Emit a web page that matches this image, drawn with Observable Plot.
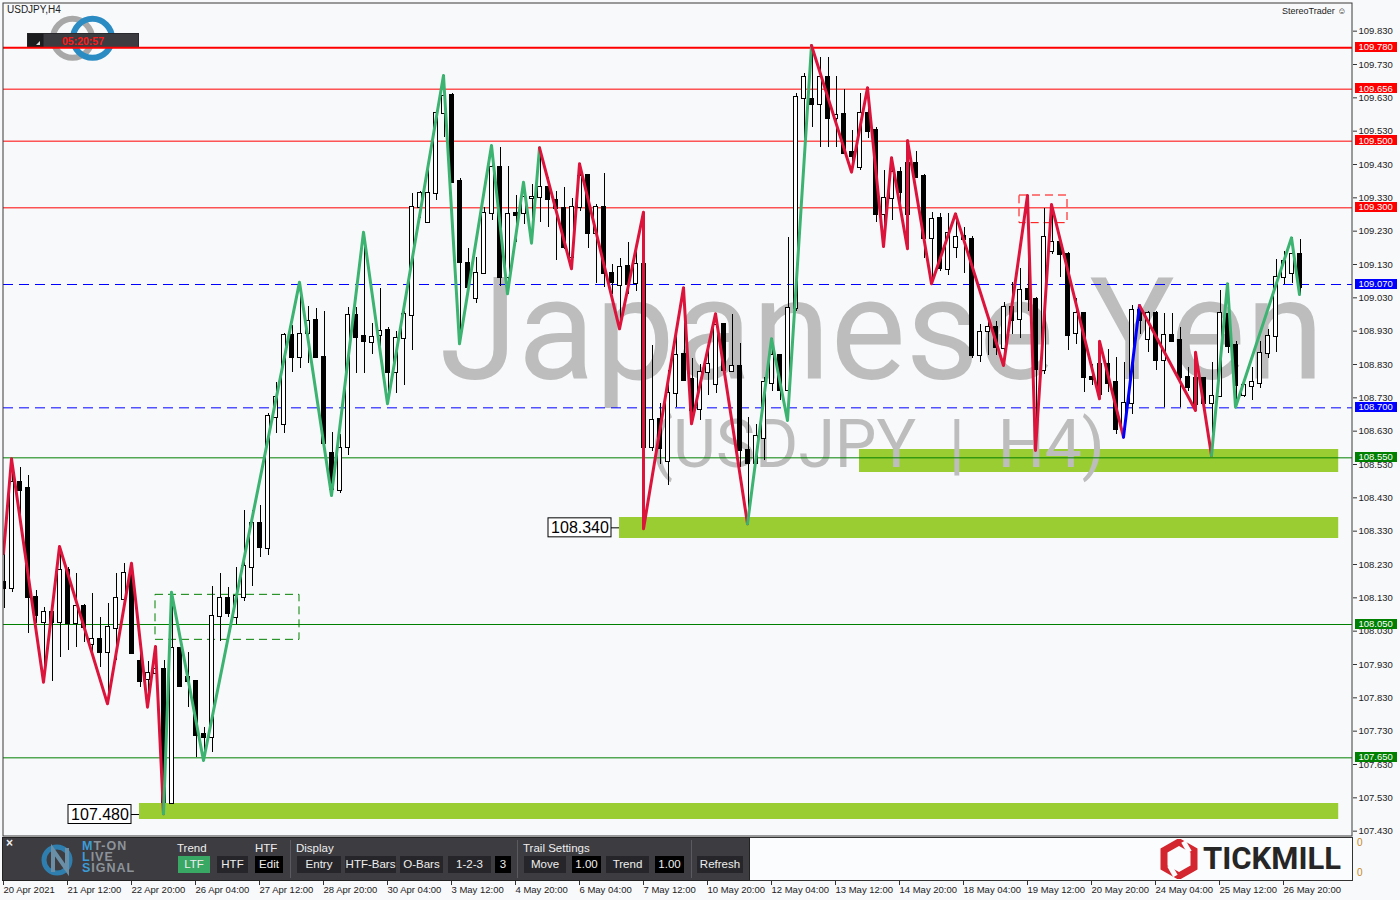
<!DOCTYPE html>
<html><head><meta charset="utf-8">
<script src="https://cdn.jsdelivr.net/npm/d3@7"></script>
<script src="https://cdn.jsdelivr.net/npm/@observablehq/plot@0.6"></script>
<style>
body{margin:0;background:#f8f9fb;width:1400px;height:900px;position:relative;overflow:hidden;font-family:"Liberation Sans",Arial,sans-serif}
.abs{position:absolute}
#main{position:absolute;left:0;top:0;z-index:2}
#logo{position:absolute;left:0;top:0;z-index:1}
#xaxis{position:absolute;left:0;top:880px}
.t{position:absolute;color:#eee;font-size:11.5px;white-space:nowrap}
.btn{position:absolute;top:856px;height:17px;line-height:17px;text-align:center;color:#eee;background:#26262a;font-size:11.5px}
.blk{background:#000}
.sep{position:absolute;top:840px;width:1px;height:38px;background:#5a5a60}
</style></head><body>
<svg id="logo" width="150" height="70">
  <circle cx="72.5" cy="38.3" r="19.5" fill="none" stroke="#a8a8a8" stroke-width="6"/>
  <circle cx="92.5" cy="38.3" r="19.5" fill="none" stroke="#2b8cc4" stroke-width="6"/>
  <rect x="27.5" y="33.5" width="111" height="14" fill="#3b3b40" stroke="#2a2a2e"/>
  <rect x="27.5" y="33.5" width="16" height="14" fill="#1c1c1f"/>
  <path d="M40 45 L36 45 L40 41 Z" fill="#ddd"/>
  <text x="83" y="44.5" fill="#ff1a1a" font-size="10.5" font-weight="bold" text-anchor="middle" font-family="Liberation Sans">05:20:57</text>
</svg>
<div class="abs" style="left:7px;top:4px;font-size:10px;color:#222">USDJPY,H4</div>
<div class="abs" style="left:1282px;top:6px;font-size:9px;color:#222">StereoTrader ☺</div>
<div id="main"></div>

<!-- indicator sub-window -->
<div class="abs" style="left:2px;top:837px;width:1349px;height:42px;border:1px solid #333;background:#fbfcfd"></div>
<div class="abs" style="left:2px;top:837px;width:746px;height:42px;border:1px solid #222;background:#3c3c41"></div>
<div class="t" style="left:6px;top:836px;font-weight:bold;font-size:12px">×</div>
<svg class="abs" style="left:40px;top:842px" width="40" height="36">
  <circle cx="17" cy="18" r="13" fill="none" stroke="#2e7fb0" stroke-width="5"/>
  <path d="M13 30 L13 8 L27 28 L27 6" fill="none" stroke="#6a8ea6" stroke-width="4"/>
</svg>
<div class="t" style="left:82px;top:841px;font-weight:bold;font-size:12.5px;letter-spacing:1px;line-height:11px;color:#8d939a">
<span style="color:#3b9bd6">M</span>T-ON<br><span style="color:#3b9bd6">L</span>IVE<br><span style="color:#3b9bd6">S</span>IGNAL</div>
<div class="t" style="left:177px;top:842px">Trend</div>
<div class="t" style="left:255px;top:842px">HTF</div>
<div class="btn" style="left:178px;width:32px;background:#3aa865">LTF</div>
<div class="btn" style="left:217px;width:31px">HTF</div>
<div class="btn blk" style="left:255px;width:28px">Edit</div>
<div class="sep" style="left:290px"></div>
<div class="t" style="left:296px;top:842px">Display</div>
<div class="btn" style="left:297px;width:44px">Entry</div>
<div class="btn" style="left:345px;width:51px">HTF-Bars</div>
<div class="btn" style="left:400px;width:43px">O-Bars</div>
<div class="btn" style="left:448px;width:43px">1-2-3</div>
<div class="btn blk" style="left:495px;width:16px">3</div>
<div class="sep" style="left:517px"></div>
<div class="t" style="left:523px;top:842px">Trail Settings</div>
<div class="btn" style="left:524px;width:42px">Move</div>
<div class="btn blk" style="left:572px;width:29px">1.00</div>
<div class="btn" style="left:606px;width:43px">Trend</div>
<div class="btn blk" style="left:655px;width:29px">1.00</div>
<div class="sep" style="left:691px"></div>
<div class="btn" style="left:697px;width:46px">Refresh</div>
<svg class="abs" style="left:1160px;top:839px" width="40" height="40">
  <polygon points="19,3 34,11.5 34,28.5 19,37 4,28.5 4,11.5" fill="none" stroke="#d3262e" stroke-width="7" stroke-linejoin="miter"/>
  <rect x="24" y="2" width="5" height="12" fill="#fbfcfd" transform="rotate(-30 26 8)"/>
  <rect x="10" y="26" width="5" height="12" fill="#fbfcfd" transform="rotate(-30 12 32)"/>
</svg>
<div class="abs" style="left:1203px;top:840px;font-family:Roboto,sans-serif;font-weight:700;font-size:31px;color:#262626">TICKMILL</div>
<div class="abs" style="left:1357px;top:837px;font-size:10px;color:#c58a1e">0</div>
<div class="abs" style="left:1357px;top:867px;font-size:10px;color:#c58a1e">0</div>
<div id="xaxis"></div>

<script>
// ---------------- data ----------------
const candleOpen = [108.177,108.157,108.477,108.457,108.132,108.057,108.087,108.057,108.212,108.054,
108.104,107.99,108.005,107.967,108.037,108.124,108.202,107.94,107.884,107.902,
107.914,107.514,107.977,107.89,107.88,107.72,107.71,108.074,108.127,108.07,
108.13,108.222,108.352,108.277,108.67,108.65,108.916,108.85,108.922,108.962,
108.85,108.564,108.452,108.58,108.976,108.914,108.895,108.916,108.932,108.807,
108.907,108.977,109.302,109.257,109.344,109.582,109.637,109.38,109.134,109.027,
109.102,109.284,109.42,109.092,109.282,109.282,109.327,109.33,109.36,109.322,
109.297,109.152,109.302,109.397,109.224,109.302,109.104,109.067,109.124,109.072,
109.13,108.58,108.664,108.54,108.744,108.86,108.784,108.694,108.807,108.77,
108.95,108.81,108.824,108.572,108.534,108.607,108.774,108.857,108.752,108.997,
109.627,109.624,109.61,109.69,109.567,109.58,109.466,109.42,109.584,109.532,
109.28,109.327,109.407,109.28,109.434,109.394,109.207,109.267,109.114,109.18,
109.214,109.204,108.857,108.93,108.94,108.877,109.002,108.964,109.054,109.024,
108.812,109.17,109.197,109.16,108.922,108.982,108.792,108.74,108.83,108.777,
108.634,108.712,108.992,108.904,108.982,108.842,108.917,108.902,108.79,108.71,
108.787,108.714,108.734,108.98,108.887,108.737,108.764,108.774,108.862,108.914,
109.09,109.102,109.16];
const candleHigh = [108.317,108.547,108.522,108.497,108.152,108.102,108.11,108.282,108.222,108.202,
108.11,108.142,108.072,108.112,108.202,108.232,108.234,107.98,107.94,107.984,
107.942,108.147,107.977,107.967,107.88,107.74,108.165,108.202,108.16,108.222,
108.392,108.392,108.407,108.682,108.777,108.924,108.947,109.077,109.004,108.997,
108.99,108.627,108.62,109.002,109.002,109.227,108.954,109.057,108.942,108.93,
108.99,109.342,109.35,109.417,109.592,109.697,109.642,109.387,109.177,109.15,
109.30,109.487,109.48,109.424,109.337,109.377,109.37,109.48,109.39,109.35,
109.36,109.327,109.432,109.40,109.31,109.404,109.13,109.147,109.197,109.19,
109.287,108.887,108.712,108.812,108.917,109.06,108.847,108.83,108.872,108.982,
108.95,108.98,108.892,108.672,108.65,108.792,108.907,108.857,109.212,109.642,
109.704,109.787,109.75,109.75,109.694,109.654,109.532,109.642,109.66,109.54,
109.412,109.452,109.422,109.502,109.47,109.40,109.287,109.284,109.282,109.284,
109.24,109.214,108.95,108.97,108.96,109.017,109.077,109.117,109.337,109.03,
109.297,109.31,109.197,109.167,109.027,108.982,108.83,108.90,108.874,108.85,
108.837,109.007,109.007,108.99,108.99,108.982,108.982,108.942,108.82,108.867,
108.787,108.837,109.052,109.072,108.90,108.78,108.822,108.90,108.934,109.144,
109.17,109.21,109.204];
const candleLow = [108.098,108.147,108.362,108.022,108.052,107.877,107.88,107.952,107.972,107.982,
107.997,107.952,107.922,107.812,107.942,108.12,107.96,107.862,107.802,107.88,
107.48,107.51,107.86,107.80,107.652,107.642,107.667,108.0,108.07,108.05,
108.12,108.164,108.25,108.257,108.622,108.622,108.807,108.817,108.832,108.85,
108.59,108.437,108.442,108.557,108.802,108.802,108.86,108.854,108.712,108.742,
108.767,108.872,109.267,109.257,109.322,109.512,109.377,108.892,109.06,109.012,
109.10,109.262,109.064,109.042,109.197,109.25,109.194,109.257,109.242,109.142,
109.176,109.117,109.29,109.177,109.072,109.062,109.04,108.937,109.04,109.05,
108.337,108.57,108.53,108.467,108.70,108.78,108.652,108.662,108.737,108.742,
108.802,108.81,108.522,108.352,108.53,108.542,108.75,108.722,108.662,108.99,
109.502,109.54,109.482,109.48,109.48,109.46,109.407,109.412,109.507,109.257,
109.184,109.262,109.29,109.177,109.39,109.147,109.072,109.11,109.097,109.147,
109.102,108.847,108.837,108.857,108.857,108.827,108.92,108.907,108.99,108.572,
108.80,109.16,109.092,108.872,108.89,108.747,108.767,108.727,108.747,108.62,
108.612,108.68,108.92,108.867,108.812,108.70,108.897,108.70,108.75,108.692,
108.69,108.557,108.73,108.862,108.702,108.73,108.722,108.757,108.847,108.867,
109.07,109.072,109.04];
const candleClose = [108.157,108.477,108.452,108.132,108.077,108.087,108.057,108.212,108.054,108.104,
108.042,108.005,107.967,108.04,108.127,108.204,107.962,107.88,107.902,107.914,
107.517,107.977,107.864,107.88,107.717,107.71,108.074,108.127,108.084,108.134,
108.224,108.352,108.28,108.674,108.73,108.916,108.852,108.92,108.96,108.85,
108.592,108.454,108.577,108.976,108.91,108.9,108.91,108.93,108.807,108.907,
108.979,109.302,109.342,109.344,109.582,109.634,109.377,109.135,109.062,109.104,
109.284,109.42,109.092,109.279,109.277,109.33,109.332,109.36,109.324,109.297,
109.182,109.302,109.394,109.224,109.302,109.104,109.077,109.12,109.07,109.13,
108.58,108.662,108.577,108.744,108.857,108.782,108.692,108.807,108.83,108.947,
108.812,108.824,108.572,108.534,108.614,108.777,108.857,108.752,108.997,109.63,
109.69,109.61,109.69,109.567,109.577,109.464,109.454,109.582,109.53,109.28,
109.327,109.407,109.347,109.434,109.39,109.207,109.264,109.117,109.224,109.21,
109.204,108.857,108.927,108.94,108.88,109.002,108.962,109.052,109.024,108.814,
109.21,109.197,109.16,108.917,108.984,108.79,108.784,108.83,108.774,108.634,
108.712,108.992,108.962,108.982,108.842,108.917,108.9,108.79,108.762,108.787,
108.712,108.734,108.982,108.884,108.767,108.767,108.777,108.862,108.914,109.09,
109.139,109.16,109.062];

const xTickIndex = [0,8,16,24,32,40,48,56,64,72,80,88,96,104,112,120,128,136,144,152,160];
const xTickLabels = ["20 Apr 2021","21 Apr 12:00","22 Apr 20:00","26 Apr 04:00","27 Apr 12:00","28 Apr 20:00",
"30 Apr 04:00","3 May 12:00","4 May 20:00","6 May 04:00","7 May 12:00","10 May 20:00","12 May 04:00",
"13 May 12:00","14 May 20:00","18 May 04:00","19 May 12:00","20 May 20:00","24 May 04:00","25 May 12:00","26 May 20:00"];
const yTicks = [107.43,107.53,107.63,107.73,107.83,107.93,108.03,108.13,108.23,108.33,108.43,108.53,
108.63,108.73,108.83,108.93,109.03,109.13,109.23,109.33,109.43,109.53,109.63,109.73,109.83];

// horizontal levels
const resistanceLevels = [109.78,109.656,109.5,109.3];
const pivotLevels = [109.07,108.7];
const supportLevels = [108.55,108.05,107.65];

// demand zones
const zoneStart = [107,77,17];
const zoneEnd = [166.9,166.9,166.9];
const zoneLow = [108.506,108.308,107.465];
const zoneHigh = [108.575,108.371,107.513];
const zoneLabelPrice = [null,108.34,107.48];

// zigzag legs [bar index, price]
const zzDown1 = [[0,108.263],[1,108.547],[5,107.877],[7,108.284],[13,107.812],[16,108.234],[18,107.802],[19,107.984],[20,107.482]];
const zzUp1 = [[20,107.482],[21,108.147],[25,107.642],[37,109.077],[41,108.437],[45,109.227],[48,108.712],[55,109.697],[57,108.892],[61,109.487],[63,109.042],[65,109.377],[66,109.194],[67,109.48]];
const zzDown2 = [[67,109.48],[71,109.117],[72,109.432],[77,108.937],[80,109.287],[80,108.337],[85,109.06],[86,108.652],[89,108.982],[93,108.352]];
const zzUp2 = [[93,108.352],[96,108.907],[98,108.662],[101,109.787]];
const zzDown3 = [[101,109.787],[106,109.407],[108,109.66],[110,109.184],[111,109.45],[113,109.177],[113,109.502],[116,109.072],[119,109.282],[125,108.827],[128,109.337],[129,108.572],[131,109.31],[137,108.727],[137,108.90],[140,108.612]];
const zzNeutral = [[140,108.612],[142,109.007]];
const zzDown4 = [[142,109.007],[149,108.692],[149,108.867],[151,108.557]];
const zzUp3 = [[151,108.557],[153,109.072],[154,108.702],[161,109.21],[162,109.04]];

// pattern boxes [i1, i2, p1, p2]
const boxBull = [19,37,108.004,108.139];
const boxBear = [127,133,109.254,109.337];

// ---------------- build ----------------
const PXB = 8;            // px per bar
const PXU = 333.333;      // px per price unit
const W = 1400, H = 837, ML = 3, MR = 48, MT = 2, MB = 1;
const xDomain = [0, (W - MR - ML) / PXB];
const yDomain = [107.414, 109.916];
const pxToBar = px => (px - ML) / PXB;

const candles = candleOpen.map((o, i) => ({i, o, h: candleHigh[i], l: candleLow[i], c: candleClose[i]}));
const C = {red: "#dc143c", green: "#3cb371", blue: "#0000ff"};
const zz = [];
[[zzDown1, C.red], [zzUp1, C.green], [zzDown2, C.red], [zzUp2, C.green], [zzDown3, C.red],
 [zzNeutral, C.blue], [zzDown4, C.red], [zzUp3, C.green]].forEach(([pts, col], k) =>
  pts.forEach(([i, p]) => zz.push({i, p, seg: k, col})));

const zones = zoneStart.map((s, k) => ({s, e: zoneEnd[k], lo: zoneLow[k], hi: zoneHigh[k], lab: zoneLabelPrice[k]}));
const zoneLabels = zones.filter(z => z.lab != null);

const solidLevels = [
  ...resistanceLevels.slice(1).map(p => ({p, col: "#ff0000"})),
  ...supportLevels.map(p => ({p, col: "#008000"}))
];
const tags = [
  ...resistanceLevels.map(p => ({p, col: "#ff0000"})),
  ...pivotLevels.map(p => ({p, col: "#0000ff"})),
  ...supportLevels.map(p => ({p, col: "#008000"}))
];

const fmt = d3.format(".3f");
const mainPlot = Plot.plot({
  width: W, height: H, marginLeft: ML, marginRight: MR, marginTop: MT, marginBottom: MB,
  x: {domain: xDomain, axis: null},
  y: {domain: yDomain, axis: null},
  color: {type: "identity"},
  style: {background: "transparent", fontFamily: "Liberation Sans, Arial, sans-serif", fontSize: "9.5px", color: "#222", overflow: "visible"},
  marks: [
    // zones
    Plot.rect(zones, {x1: "s", x2: "e", y1: "lo", y2: "hi", fill: "#9acd32"}),
    // watermark
    Plot.text(["Japanese Yen"], {text: d => d, frameAnchor: "top-left", dx: 436, dy: 276, lineAnchor: "top", textAnchor: "start",
      fontSize: 142, fontFamily: "Roboto", fill: "#bdbdbd"}),
    Plot.text(["(USDJPY  |  H4)"], {text: d => d, frameAnchor: "top-left", dx: 647, dy: 418, lineAnchor: "top", textAnchor: "start",
      fontSize: 66, fontFamily: "Roboto", fill: "#bdbdbd"}),
    // levels
    Plot.ruleY(solidLevels, {y: "p", stroke: "col", strokeWidth: 1}),
    Plot.ruleY([resistanceLevels[0]], {y: d => d, stroke: () => "#ff0000", strokeWidth: 2}),
    Plot.ruleY(pivotLevels, {y: d => d, stroke: () => "#0000ff", strokeWidth: 1, strokeDasharray: "10,6"}),
    // pattern boxes
    Plot.rect([boxBull], {x1: d => d[0], x2: d => d[1], y1: d => d[2], y2: d => d[3], fill: "none", stroke: "#008000", strokeDasharray: "8,5"}),
    Plot.rect([boxBear], {x1: d => d[0], x2: d => d[1], y1: d => d[2], y2: d => d[3], fill: "none", stroke: "#ff0000", strokeDasharray: "8,5"}),
    // candles
    Plot.ruleX(candles, {x: "i", y1: "l", y2: "h", stroke: "#000", dx: 0.5, clip: true, shapeRendering: "crispEdges"}),
    Plot.rect(candles, {x1: d => d.i - 0.25, x2: d => d.i + 0.25, y1: "o", y2: "c", dx: 0.5,
      insetTop: -0.5, insetBottom: -0.5,
      fill: d => d.c >= d.o ? "#ffffff" : "#000000", stroke: "#000", strokeWidth: 1, clip: true, shapeRendering: "crispEdges"}),
    // zigzag
    Plot.line(zz, {x: "i", y: "p", z: "seg", stroke: "col", strokeWidth: 3, clip: true}),
    // zone labels
    Plot.ruleY(zoneLabels, {y: "lab", x1: d => d.s - 1, x2: "s", stroke: "#000"}),
    Plot.rect(zoneLabels, {x1: d => d.s - 71 / PXB, x2: d => d.s - 8 / PXB, y1: d => d.lab - 9.5 / PXU, y2: d => d.lab + 9.5 / PXU,
      fill: "#fff", stroke: "#000"}),
    Plot.text(zoneLabels, {x: d => d.s - 39.5 / PXB, y: "lab", text: d => fmt(d.lab), fontSize: 16, fill: "#000"}),
    // frame
    Plot.frame({stroke: "#3a3a3a", insetLeft: -0.5, insetTop: 0.5, insetRight: 0.5, insetBottom: 0.5}),
    // right axis
    Plot.axisY({anchor: "right", ticks: yTicks, tickFormat: fmt, tickSize: 4, tickPadding: 2, stroke: "#333", fill: "#222"}),
    // price tags
    Plot.rect(tags, {x1: pxToBar(1355), x2: pxToBar(1397), y1: d => d.p + 5.5 / PXU, y2: d => d.p - 4.5 / PXU, fill: "col", shapeRendering: "crispEdges"}),
    Plot.text(tags, {x: pxToBar(1358), y: "p", text: d => fmt(d.p), fill: "#fff", textAnchor: "start", dy: -0.5})
  ]
});
document.getElementById("main").appendChild(mainPlot);

const labelByIndex = new Map(xTickIndex.map((t, k) => [t, xTickLabels[k]]));
const xPlot = Plot.plot({
  width: W, height: 20, marginLeft: ML, marginRight: MR, marginTop: 0, marginBottom: 19,
  x: {domain: xDomain, axis: null},
  style: {background: "transparent", fontFamily: "Liberation Sans, Arial, sans-serif", fontSize: "9.5px", color: "#222", overflow: "visible"},
  marks: [
    Plot.axisX({anchor: "bottom", ticks: xTickIndex, tickFormat: d => labelByIndex.get(d), tickSize: 4, tickPadding: 1, textAnchor: "start", stroke: "#333", fill: "#222"})
  ]
});
document.getElementById("xaxis").appendChild(xPlot);
</script>
</body></html>
